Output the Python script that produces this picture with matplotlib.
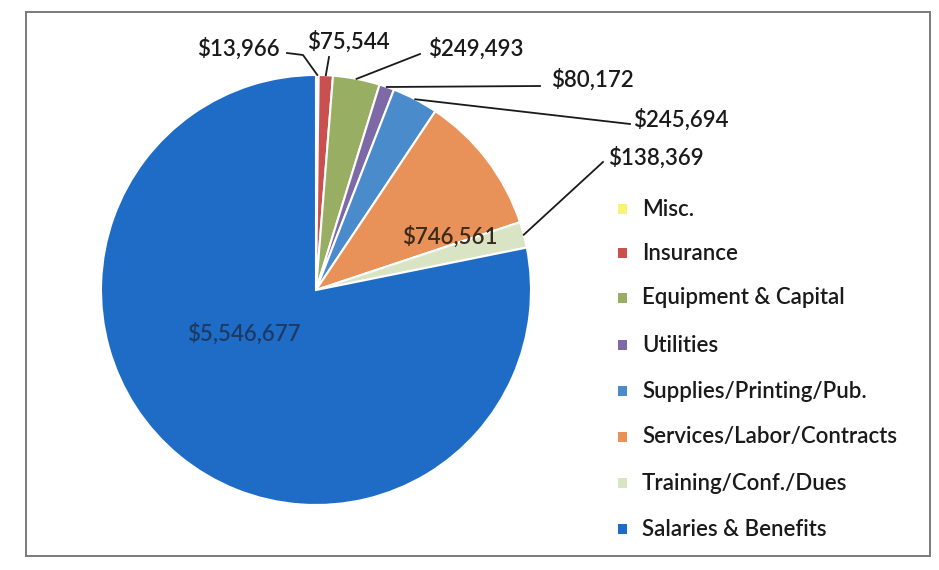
import numpy as np
import matplotlib
matplotlib.use("Agg")
import matplotlib.pyplot as plt
from matplotlib.patches import Rectangle

# Expense categories, in pie order (clockwise from 12 o'clock)
categories = ["Misc.", "Insurance", "Equipment & Capital", "Utilities",
              "Supplies/Printing/Pub.", "Services/Labor/Contracts",
              "Training/Conf./Dues", "Salaries & Benefits"]
amounts = [13966, 75544, 249493, 80172, 245694, 746561, 138369, 5546677]
colors = ["#F6F27A", "#C9504F", "#98AE62", "#7C69A6", "#4A8BCB",
          "#E8925A", "#D9E4C4", "#1F6CC6"]

plt.rcParams["font.family"] = ["Lato", "DejaVu Sans"]
FS = 16
FW = "semibold"

W, H = 939, 570
fig = plt.figure(figsize=(W / 100, H / 100), dpi=100)
fig.patch.set_facecolor("white")

# outer chart border
fig.patches.append(Rectangle((26 / W, 1 - 556 / H), 904 / W, 544 / H,
                             transform=fig.transFigure, fill=False,
                             edgecolor="#7a7a7a", linewidth=1.4))

# pie axes: centre (316, 290) px, radius 215 px
cx, cy, r = 316, 290, 215
ax = fig.add_axes([(cx - r) / W, 1 - (cy + r) / H, 2 * r / W, 2 * r / H])
wedges, _ = ax.pie(amounts, colors=colors, startangle=90, counterclock=False,
                   radius=1, wedgeprops=dict(edgecolor="white", linewidth=1.5))
ax.set_xlim(-1, 1)
ax.set_ylim(-1, 1)
ax.set_aspect("equal")
ax.axis("off")


def px(x, y):
    return x / W, 1 - y / H


def fmt(v):
    return "${:,}".format(v)


def anchor(i, rr=1.0):
    w = wedges[i]
    ang = np.deg2rad((w.theta1 + w.theta2) / 2)
    return rr * np.cos(ang), rr * np.sin(ang)


# outside labels: text centre and elbow points of the leader line (pixels)
outside = {
    0: ((238, 49), [(287, 53), (303, 55)]),
    1: ((348, 42), [(329, 57)]),
    2: ((476, 49), [(420, 54)]),
    3: ((592, 80), [(540, 86)]),
    4: ((681, 120), [(630, 124)]),
    6: ((656, 158), [(603, 162)]),
}
for i, ((tx, ty), pts) in outside.items():
    fig.text(*px(tx, ty), fmt(amounts[i]), ha="center", va="center",
             fontsize=FS, fontweight=FW, color="#1a1a1a")
    disp = ax.transData.transform(anchor(i, 1.0))
    fx, fy = fig.transFigure.inverted().transform(disp)
    xs = [px(*p)[0] for p in pts] + [fx]
    ys = [px(*p)[1] for p in pts] + [fy]
    fig.add_artist(plt.Line2D(xs, ys, transform=fig.transFigure,
                              color="#1a1a1a", linewidth=1.3))

# inside labels
fig.text(*px(450, 237), fmt(amounts[5]), ha="center", va="center",
         fontsize=FS, fontweight=FW, color="#3a2a1a")
fig.text(*px(244, 334), fmt(amounts[7]), ha="center", va="center",
         fontsize=FS, fontweight=FW, color="#1d3a66")

# legend
legend_y = [209, 253, 298, 345, 391, 437, 483, 529]
for name, col, ly in zip(categories, colors, legend_y):
    fig.patches.append(Rectangle(px(618, ly + 5), 9 / W, 10 / H,
                                 transform=fig.transFigure,
                                 facecolor=col, edgecolor="none"))
    fig.text(*px(642, ly), name, ha="left", va="center",
             fontsize=FS, fontweight=FW, color="#1a1a1a")

fig.savefig("out.png", dpi=100)
